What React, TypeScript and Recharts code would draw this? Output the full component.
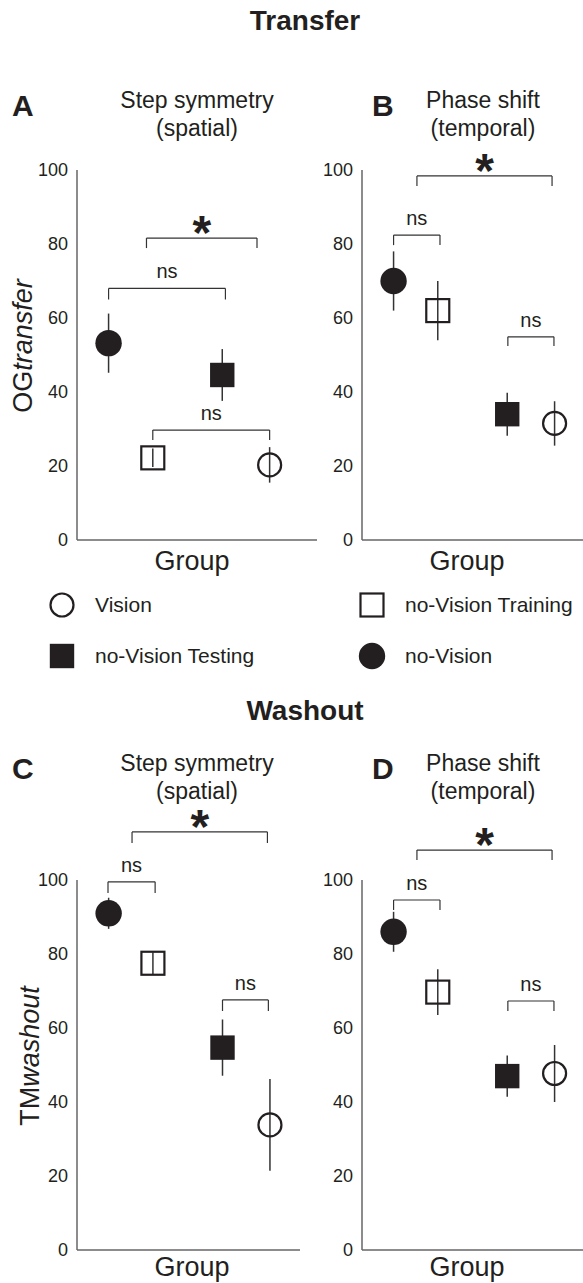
import React from 'react'
import { ScatterChart, Scatter, XAxis, YAxis, ErrorBar, ReferenceLine } from 'recharts'

const FONT = '"Liberation Sans", Arial, Helvetica, sans-serif'
const INK = '#231f20'
const AXIS = '#666'

// group order along the x axis
const GROUPS = ['no-Vision', 'no-Vision Training', 'no-Vision Testing', 'Vision']
const GROUP_X = [1, 2.4, 4.6, 6.1]
const Y_TICKS = [0, 20, 40, 60, 80, 100]

// A: transfer, step symmetry (spatial)
const transferSpatial = [53.2, 22.2, 44.6, 20.3]
const transferSpatialErr = [8, 2.5, 7, 4.8]
// B: transfer, phase shift (temporal)
const transferTemporal = [70, 62, 34, 31.5]
const transferTemporalErr = [8, 8, 5.8, 6]
// C: washout, step symmetry (spatial)
const washoutSpatial = [91, 77.5, 54.7, 33.8]
const washoutSpatialErr = [4.2, 3, 7.6, 12.4]
// D: washout, phase shift (temporal)
const washoutTemporal = [86, 69.7, 47, 47.7]
const washoutTemporalErr = [5.4, 6.2, 5.6, 7.7]

type Bracket = { x1: number; x2: number; top: number; foot: number; label: string }

const bracketsA: Bracket[] = [
  { x1: 2.2, x2: 5.7, top: 81.6, foot: 78.9, label: '*' },
  { x1: 1.0, x2: 4.7, top: 68, foot: 65, label: 'ns' },
  { x1: 2.4, x2: 6.1, top: 29.7, foot: 27, label: 'ns' },
]
const bracketsB: Bracket[] = [
  { x1: 1.74, x2: 6.02, top: 98.4, foot: 95.7, label: '*' },
  { x1: 1.0, x2: 2.47, top: 82.4, foot: 79.7, label: 'ns' },
  { x1: 4.62, x2: 6.08, top: 54.9, foot: 52.4, label: 'ns' },
]
const bracketsC: Bracket[] = [
  { x1: 1.74, x2: 6.02, top: 113, foot: 110, label: '*' },
  { x1: 0.98, x2: 2.47, top: 99.5, foot: 96.5, label: 'ns' },
  { x1: 4.6, x2: 6.05, top: 67.6, foot: 64.6, label: 'ns' },
]
const bracketsD: Bracket[] = [
  { x1: 1.74, x2: 6.02, top: 108.1, foot: 105.4, label: '*' },
  { x1: 1.0, x2: 2.47, top: 94.6, foot: 91.9, label: 'ns' },
  { x1: 4.62, x2: 6.08, top: 67.3, foot: 64.6, label: 'ns' },
]

// the little tick marks left on each x axis
const xTicksA = [1.46, 7.0]
const xTicksB = [0.89, 3.23]
const xTicksC = [1.46]
const xTicksD = [1.49, 6.02]

const markerShapes: Record<string, (p: any) => React.ReactElement> = {
  'no-Vision': (p) => <circle cx={p.cx} cy={p.cy} r={13.2} fill={INK} />,
  'no-Vision Training': (p) => (
    <rect x={p.cx - 11.5} y={p.cy - 11.5} width={23} height={23} fill="none" stroke={INK} strokeWidth={2.2} />
  ),
  'no-Vision Testing': (p) => <rect x={p.cx - 12.2} y={p.cy - 12.2} width={24.4} height={24.4} fill={INK} />,
  Vision: (p) => <circle cx={p.cx} cy={p.cy} r={11.5} fill="none" stroke={INK} strokeWidth={2.2} />,
}

function BracketLabel(props: any) {
  const vb = props.viewBox || {}
  const x = vb.x1 != null ? (vb.x1 + vb.x2) / 2 : vb.x + vb.width / 2
  const y = vb.y1 != null ? vb.y1 : vb.y
  if (props.text === '*') {
    return (
      <text x={x} y={y + 11} textAnchor="middle" fontSize={48} fontWeight="bold" fontFamily={FONT} fill={INK}>
        *
      </text>
    )
  }
  return (
    <text x={x} y={y - 10} textAnchor="middle" fontSize={20} fontFamily={FONT} fill={INK}>
      {props.text}
    </text>
  )
}

interface PanelProps {
  means: number[]
  errs: number[]
  brackets: Bracket[]
  xMax: number
  xTicks: number[]
  left: number
  top: number
  width: number
  height: number
  yAxisWidth: number
  marginTop: number
  marginRight: number
  xAxisHeight: number
  yLabel: [string, string]
  yLabelX: number
  groupDx: number
  groupDy: number
}

function Panel(p: PanelProps) {
  return (
    <div style={{ position: 'absolute', left: p.left, top: p.top }}>
      <ScatterChart
        width={p.width}
        height={p.height}
        margin={{ top: p.marginTop, right: p.marginRight, bottom: p.height - p.marginTop - 370 - p.xAxisHeight, left: 0 }}
      >
        <XAxis
          type="number"
          dataKey="x"
          domain={[0, p.xMax]}
          allowDataOverflow
          ticks={p.xTicks}
          tick={false}
          tickSize={3}
          height={p.xAxisHeight}
          axisLine={{ stroke: AXIS, strokeWidth: 1.5 }}
          tickLine={{ stroke: AXIS }}
          label={(lp: any) => {
            const vb = lp.viewBox || {}
            return (
              <text x={vb.x + p.groupDx} y={vb.y + p.groupDy} textAnchor="middle" fontSize={27} fontFamily={FONT} fill={INK}>
                Group
              </text>
            )
          }}
        />
        <YAxis
          type="number"
          dataKey="y"
          domain={[0, 100]}
          allowDataOverflow
          ticks={Y_TICKS}
          width={p.yAxisWidth}
          tickLine={false}
          tickSize={0}
          tickMargin={9}
          axisLine={{ stroke: AXIS, strokeWidth: 1.5 }}
          tick={{ fontSize: 18, fontFamily: FONT, fill: INK }}
          label={(lp: any) => {
            const vb = lp.viewBox || {}
            const cx = vb.x + p.yLabelX
            const cy = vb.y + vb.height / 2 - 9
            return (
              <text
                x={cx}
                y={cy}
                transform={`rotate(-90, ${cx}, ${cy})`}
                textAnchor="middle"
                fontSize={27}
                fontFamily={FONT}
                fill={INK}
              >
                {p.yLabel[0]}
                <tspan fontStyle="italic">{p.yLabel[1]}</tspan>
              </text>
            )
          }}
        />
        {p.brackets.map((b, i) => (
          <ReferenceLine
            key={`l${i}`}
            segment={[{ x: b.x1, y: b.foot }, { x: b.x1, y: b.top }]}
            stroke="#333"
            strokeWidth={1.2}
            ifOverflow="visible"
          />
        ))}
        {p.brackets.map((b, i) => (
          <ReferenceLine
            key={`t${i}`}
            segment={[{ x: b.x1, y: b.top }, { x: b.x2, y: b.top }]}
            stroke="#333"
            strokeWidth={1.2}
            ifOverflow="visible"
            label={(lp: any) => <BracketLabel {...lp} text={b.label} />}
          />
        ))}
        {p.brackets.map((b, i) => (
          <ReferenceLine
            key={`r${i}`}
            segment={[{ x: b.x2, y: b.top }, { x: b.x2, y: b.foot }]}
            stroke="#333"
            strokeWidth={1.2}
            ifOverflow="visible"
          />
        ))}
        {GROUPS.map((g, i) => (
          <Scatter
            key={g}
            name={g}
            data={[{ x: GROUP_X[i], y: p.means[i], err: p.errs[i] }]}
            shape={markerShapes[g]}
            isAnimationActive={false}
          >
            <ErrorBar dataKey="err" direction="y" width={0} stroke="#333" strokeWidth={1.5} />
          </Scatter>
        ))}
      </ScatterChart>
    </div>
  )
}

function LegendMarker({ kind }: { kind: string }) {
  return (
    <svg width={28} height={28} style={{ position: 'absolute', left: -14, top: -14 }}>
      {markerShapes[kind]({ cx: 14, cy: 14 })}
    </svg>
  )
}

const legendItems = [
  { name: 'Vision', col: 0, row: 0 },
  { name: 'no-Vision Training', col: 1, row: 0 },
  { name: 'no-Vision Testing', col: 0, row: 1 },
  { name: 'no-Vision', col: 1, row: 1 },
]

const textStyle: React.CSSProperties = { position: 'absolute', lineHeight: 1, whiteSpace: 'nowrap' }

function Titles({ letter, l1, l2, x, letterX, top }: { letter: string; l1: string; l2: string; x: number; letterX: number; top: number }) {
  return (
    <>
      <div style={{ ...textStyle, left: letterX, top: top + 5, fontSize: 30, fontWeight: 'bold' }}>{letter}</div>
      <div
        style={{
          ...textStyle,
          left: x,
          top,
          transform: 'translateX(-50%)',
          fontSize: 23,
          lineHeight: '28px',
          textAlign: 'center',
        }}
      >
        {l1}
        <br />
        {l2}
      </div>
    </>
  )
}

export default function App() {
  return (
    <div
      style={{
        position: 'absolute',
        left: 0,
        top: 0,
        width: 583,
        height: 1283,
        overflow: 'hidden',
        background: '#fff',
        fontFamily: FONT,
        color: INK,
      }}
    >
      <div style={{ ...textStyle, left: 305, top: 7, transform: 'translateX(-50%)', fontSize: 28, fontWeight: 'bold' }}>
        Transfer
      </div>
      <Titles letter="A" l1="Step symmetry" l2="(spatial)" x={197} letterX={12} top={86} />
      <Titles letter="B" l1="Phase shift" l2="(temporal)" x={483} letterX={372} top={86} />

      <Panel
        means={transferSpatial}
        errs={transferSpatialErr}
        brackets={bracketsA}
        xMax={7.6}
        xTicks={xTicksA}
        left={0}
        top={0}
        width={320}
        height={600}
        yAxisWidth={77}
        marginTop={170}
        marginRight={3}
        xAxisHeight={40}
        yLabel={['OG', 'transfer']}
        yLabelX={32}
        groupDx={115}
        groupDy={30}
      />
      <Panel
        means={transferTemporal}
        errs={transferTemporalErr}
        brackets={bracketsB}
        xMax={7}
        xTicks={xTicksB}
        left={290}
        top={0}
        width={293}
        height={600}
        yAxisWidth={72}
        marginTop={170}
        marginRight={0}
        xAxisHeight={40}
        yLabel={['', '']}
        yLabelX={0}
        groupDx={105}
        groupDy={30}
      />

      {legendItems.map((it) => (
        <div key={it.name} style={{ position: 'absolute', left: it.col ? 372 : 62, top: it.row ? 656 : 605 }}>
          <LegendMarker kind={it.name} />
          <div style={{ ...textStyle, left: 33, top: -11, fontSize: 21 }}>{it.name}</div>
        </div>
      ))}

      <div style={{ ...textStyle, left: 305, top: 697, transform: 'translateX(-50%)', fontSize: 28, fontWeight: 'bold' }}>
        Washout
      </div>
      <Titles letter="C" l1="Step symmetry" l2="(spatial)" x={197} letterX={12} top={749} />
      <Titles letter="D" l1="Phase shift" l2="(temporal)" x={483} letterX={372} top={749} />

      <Panel
        means={washoutSpatial}
        errs={washoutSpatialErr}
        brackets={bracketsC}
        xMax={7.05}
        xTicks={xTicksC}
        left={0}
        top={700}
        width={300}
        height={583}
        yAxisWidth={77}
        marginTop={180}
        marginRight={0}
        xAxisHeight={33}
        yLabel={['TM', 'washout']}
        yLabelX={39}
        groupDx={115}
        groupDy={26}
      />
      <Panel
        means={washoutTemporal}
        errs={washoutTemporalErr}
        brackets={bracketsD}
        xMax={7}
        xTicks={xTicksD}
        left={290}
        top={700}
        width={293}
        height={583}
        yAxisWidth={72}
        marginTop={180}
        marginRight={0}
        xAxisHeight={33}
        yLabel={['', '']}
        yLabelX={0}
        groupDx={105}
        groupDy={26}
      />
    </div>
  )
}
